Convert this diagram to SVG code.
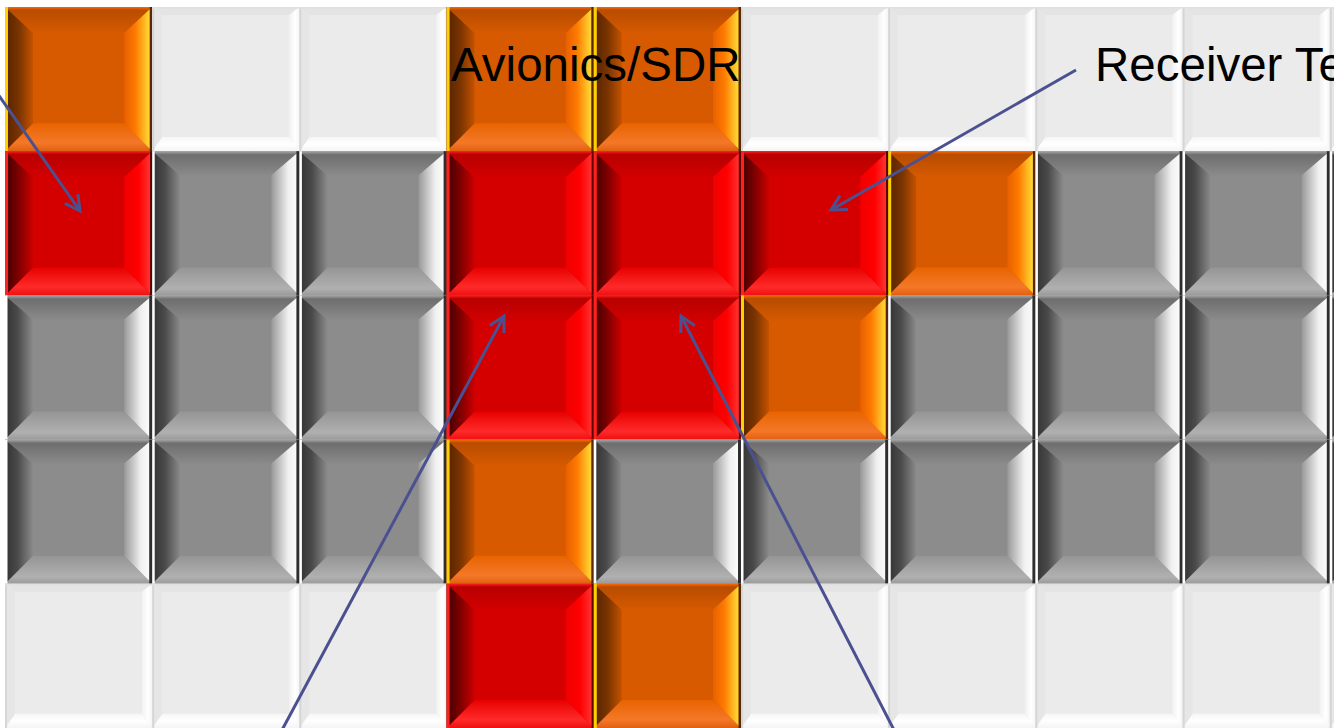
<svg xmlns="http://www.w3.org/2000/svg" xmlns:xlink="http://www.w3.org/1999/xlink" width="1334" height="728" viewBox="0 0 1334 728">
<style>
.lbl{font-family:"Liberation Sans",Arial,sans-serif;font-size:47.5px;fill:#000}
.arw{fill:none;stroke:#4b5190;stroke-width:3;marker-end:url(#ah)}
</style>
<defs>
<marker id="ah" markerUnits="userSpaceOnUse" viewBox="0 0 20 20" markerWidth="20" markerHeight="20" refX="17" refY="10" orient="auto">
<path d="M2,2 L17,10 L2,18" fill="none" stroke="#4b5190" stroke-width="3"/>
</marker>
<!-- orange gradients -->
<linearGradient id="oL" x1="0" y1="0" x2="1" y2="0"><stop offset="0" stop-color="#552300"/><stop offset="0.5" stop-color="#7a3400"/><stop offset="1" stop-color="#c45200"/></linearGradient>
<linearGradient id="oR" x1="0" y1="0" x2="1" y2="0"><stop offset="0" stop-color="#e86000"/><stop offset="0.4" stop-color="#ff7a00"/><stop offset="0.85" stop-color="#ffd030"/><stop offset="1" stop-color="#ffe040"/></linearGradient>
<linearGradient id="oT" x1="0" y1="0" x2="0" y2="1"><stop offset="0" stop-color="#ff6a00"/><stop offset="0.12" stop-color="#b84c00"/><stop offset="1" stop-color="#d65a00"/></linearGradient>
<linearGradient id="oB" x1="0" y1="0" x2="0" y2="1"><stop offset="0" stop-color="#e86400"/><stop offset="0.7" stop-color="#f47828"/><stop offset="1" stop-color="#e06010"/></linearGradient>
<!-- red gradients -->
<linearGradient id="rL" x1="0" y1="0" x2="1" y2="0"><stop offset="0" stop-color="#400000"/><stop offset="0.5" stop-color="#800000"/><stop offset="1" stop-color="#cc0000"/></linearGradient>
<linearGradient id="rR" x1="0" y1="0" x2="1" y2="0"><stop offset="0" stop-color="#f00000"/><stop offset="0.5" stop-color="#ff0000"/><stop offset="1" stop-color="#ff3a3a"/></linearGradient>
<linearGradient id="rT" x1="0" y1="0" x2="0" y2="1"><stop offset="0" stop-color="#ff2020"/><stop offset="0.12" stop-color="#b80000"/><stop offset="1" stop-color="#d20000"/></linearGradient>
<linearGradient id="rB" x1="0" y1="0" x2="0" y2="1"><stop offset="0" stop-color="#e80000"/><stop offset="0.7" stop-color="#ff2a2a"/><stop offset="1" stop-color="#ee1010"/></linearGradient>
<!-- gray gradients -->
<linearGradient id="gL" x1="0" y1="0" x2="1" y2="0"><stop offset="0" stop-color="#333"/><stop offset="0.45" stop-color="#4a4a4a"/><stop offset="1" stop-color="#8a8a8a"/></linearGradient>
<linearGradient id="gR" x1="0" y1="0" x2="1" y2="0"><stop offset="0" stop-color="#999"/><stop offset="0.6" stop-color="#f0f0f0"/><stop offset="1" stop-color="#fff"/></linearGradient>
<linearGradient id="gT" x1="0" y1="0" x2="0" y2="1"><stop offset="0" stop-color="#a8a8a8"/><stop offset="0.15" stop-color="#6e6e6e"/><stop offset="1" stop-color="#8a8a8a"/></linearGradient>
<linearGradient id="gB" x1="0" y1="0" x2="0" y2="1"><stop offset="0" stop-color="#959595"/><stop offset="0.75" stop-color="#b0b0b0"/><stop offset="1" stop-color="#9a9a9a"/></linearGradient>
<!-- light gradients -->
<linearGradient id="wR" x1="0" y1="0" x2="1" y2="0"><stop offset="0" stop-color="#f2f2f2"/><stop offset="0.6" stop-color="#ffffff"/><stop offset="1" stop-color="#f4f4f4"/></linearGradient>
<linearGradient id="wB" x1="0" y1="0" x2="0" y2="1"><stop offset="0" stop-color="#f6f6f6"/><stop offset="0.5" stop-color="#ffffff"/><stop offset="1" stop-color="#f4f4f4"/></linearGradient>

<g id="tO">
<rect x="0" y="0" width="147.2" height="144.2" fill="#d85a00"/>
<polygon points="0,0 147.2,0 119.2,26 28,26" fill="url(#oT)"/>
<polygon points="0,144.2 147.2,144.2 119.2,116.2 28,116.2" fill="url(#oB)"/>
<polygon points="0,0 28,26 28,116.2 0,144.2" fill="url(#oL)"/>
<polygon points="147.2,0 119.2,26 119.2,116.2 147.2,144.2" fill="url(#oR)"/>
<rect x="0" y="0" width="3" height="144.2" fill="#ffd000"/>
<rect x="144.7" y="0" width="2.5" height="144.2" fill="#5a2800"/>
</g>
<g id="tR">
<rect x="0" y="0" width="147.2" height="144.2" fill="#d40000"/>
<polygon points="0,0 147.2,0 119.2,26 28,26" fill="url(#rT)"/>
<polygon points="0,144.2 147.2,144.2 119.2,116.2 28,116.2" fill="url(#rB)"/>
<polygon points="0,0 28,26 28,116.2 0,144.2" fill="url(#rL)"/>
<polygon points="147.2,0 119.2,26 119.2,116.2 147.2,144.2" fill="url(#rR)"/>
<rect x="0" y="0" width="3" height="144.2" fill="#ff2020"/>
<rect x="145" y="0" width="2.2" height="144.2" fill="#600000"/>
</g>
<g id="tG">
<rect x="0" y="0" width="147.2" height="144.2" fill="#8c8c8c"/>
<polygon points="0,0 147.2,0 119.2,24 28,24" fill="url(#gT)"/>
<polygon points="0,144.2 147.2,144.2 119.2,116.2 28,116.2" fill="url(#gB)"/>
<polygon points="0,0 28,24 28,116.2 0,144.2" fill="url(#gL)"/>
<polygon points="147.2,0 119.2,24 119.2,116.2 147.2,144.2" fill="url(#gR)"/>
<rect x="0" y="0" width="2.5" height="144.2" fill="#fff"/>
<rect x="144.2" y="0" width="3" height="144.2" fill="#2e2e2e"/>
</g>
<g id="tW">
<rect x="0" y="0" width="147.2" height="144.2" fill="#ebebeb"/>
<polygon points="0,0 147.2,0 137,8 10,8" fill="#e4e4e4"/>
<polygon points="0,144.2 147.2,144.2 137,130 10,130" fill="url(#wB)"/>
<polygon points="0,0 10,8 10,130 0,144.2" fill="#e6e6e6"/>
<polygon points="147.2,0 137,8 137,130 147.2,144.2" fill="url(#wR)"/>
<rect x="0" y="0" width="2" height="144.2" fill="#d6d6d6"/>
<rect x="0" y="0" width="147.2" height="1.5" fill="#e0e0e0"/>
</g>
</defs>
<rect x="0" y="0" width="1334" height="728" fill="#ffffff"/>

<g id="tiles">
<!-- row 0 -->
<g id="t0-0"><use xlink:href="#tO" x="5" y="7"/></g>
<g id="t0-1"><use xlink:href="#tW" x="152.2" y="7"/></g>
<g id="t0-2"><use xlink:href="#tW" x="299.4" y="7"/></g>
<g id="t0-3"><use xlink:href="#tO" x="446.6" y="7"/></g>
<g id="t0-4"><use xlink:href="#tO" x="593.8" y="7"/></g>
<g id="t0-5"><use xlink:href="#tW" x="741" y="7"/></g>
<g id="t0-6"><use xlink:href="#tW" x="888.2" y="7"/></g>
<g id="t0-7"><use xlink:href="#tW" x="1035.4" y="7"/></g>
<g id="t0-8"><use xlink:href="#tW" x="1182.6" y="7"/></g>
<g id="t0-9"><use xlink:href="#tW" x="1329.8" y="7"/></g>
<!-- row 1 -->
<g id="t1-0"><use xlink:href="#tR" x="5" y="151.2"/></g>
<g id="t1-1"><use xlink:href="#tG" x="152.2" y="151.2"/></g>
<g id="t1-2"><use xlink:href="#tG" x="299.4" y="151.2"/></g>
<g id="t1-3"><use xlink:href="#tR" x="446.6" y="151.2"/></g>
<g id="t1-4"><use xlink:href="#tR" x="593.8" y="151.2"/></g>
<g id="t1-5"><use xlink:href="#tR" x="741" y="151.2"/></g>
<g id="t1-6"><use xlink:href="#tO" x="888.2" y="151.2"/></g>
<g id="t1-7"><use xlink:href="#tG" x="1035.4" y="151.2"/></g>
<g id="t1-8"><use xlink:href="#tG" x="1182.6" y="151.2"/></g>
<g id="t1-9"><use xlink:href="#tG" x="1329.8" y="151.2"/></g>
<!-- row 2 -->
<g id="t2-0"><use xlink:href="#tG" x="5" y="295.4"/></g>
<g id="t2-1"><use xlink:href="#tG" x="152.2" y="295.4"/></g>
<g id="t2-2"><use xlink:href="#tG" x="299.4" y="295.4"/></g>
<g id="t2-3"><use xlink:href="#tR" x="446.6" y="295.4"/></g>
<g id="t2-4"><use xlink:href="#tR" x="593.8" y="295.4"/></g>
<g id="t2-5"><use xlink:href="#tO" x="741" y="295.4"/></g>
<g id="t2-6"><use xlink:href="#tG" x="888.2" y="295.4"/></g>
<g id="t2-7"><use xlink:href="#tG" x="1035.4" y="295.4"/></g>
<g id="t2-8"><use xlink:href="#tG" x="1182.6" y="295.4"/></g>
<g id="t2-9"><use xlink:href="#tG" x="1329.8" y="295.4"/></g>
<!-- row 3 -->
<g id="t3-0"><use xlink:href="#tG" x="5" y="439.6"/></g>
<g id="t3-1"><use xlink:href="#tG" x="152.2" y="439.6"/></g>
<g id="t3-2"><use xlink:href="#tG" x="299.4" y="439.6"/></g>
<g id="t3-3"><use xlink:href="#tO" x="446.6" y="439.6"/></g>
<g id="t3-4"><use xlink:href="#tG" x="593.8" y="439.6"/></g>
<g id="t3-5"><use xlink:href="#tG" x="741" y="439.6"/></g>
<g id="t3-6"><use xlink:href="#tG" x="888.2" y="439.6"/></g>
<g id="t3-7"><use xlink:href="#tG" x="1035.4" y="439.6"/></g>
<g id="t3-8"><use xlink:href="#tG" x="1182.6" y="439.6"/></g>
<g id="t3-9"><use xlink:href="#tG" x="1329.8" y="439.6"/></g>
<!-- row 4 -->
<g id="t4-0"><use xlink:href="#tW" x="5" y="583.8"/></g>
<g id="t4-1"><use xlink:href="#tW" x="152.2" y="583.8"/></g>
<g id="t4-2"><use xlink:href="#tW" x="299.4" y="583.8"/></g>
<g id="t4-3"><use xlink:href="#tR" x="446.6" y="583.8"/></g>
<g id="t4-4"><use xlink:href="#tO" x="593.8" y="583.8"/></g>
<g id="t4-5"><use xlink:href="#tW" x="741" y="583.8"/></g>
<g id="t4-6"><use xlink:href="#tW" x="888.2" y="583.8"/></g>
<g id="t4-7"><use xlink:href="#tW" x="1035.4" y="583.8"/></g>
<g id="t4-8"><use xlink:href="#tW" x="1182.6" y="583.8"/></g>
<g id="t4-9"><use xlink:href="#tW" x="1329.8" y="583.8"/></g>
</g>

<g id="labels">
<text id="lbl-avionics" class="lbl" x="451" y="81">Avionics/SDR</text>
<text id="lbl-receiver" class="lbl" x="1095" y="81">Receiver Te</text>
</g>

<g id="connectors">
<line class="arw" x1="-12" y1="80" x2="80" y2="211"/>
<line class="arw" x1="1076" y1="70" x2="831" y2="210"/>
<line class="arw" x1="282" y1="730" x2="504" y2="316"/>
<line class="arw" x1="894" y1="730" x2="681" y2="316"/>
</g>
</svg>
